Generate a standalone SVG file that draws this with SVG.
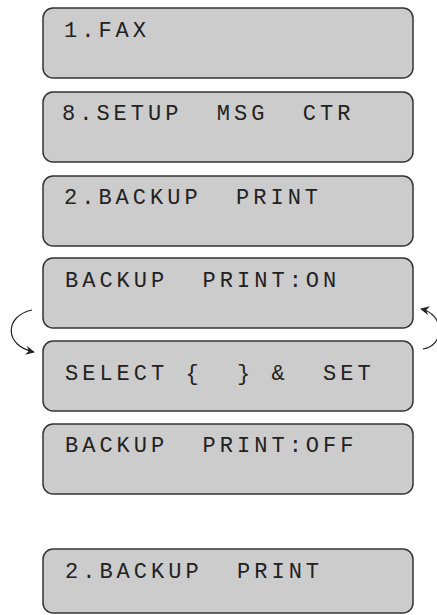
<svg xmlns="http://www.w3.org/2000/svg" width="437" height="615" viewBox="0 0 437 615">
<style>
.box{fill:#cccccc;stroke:#333333;stroke-width:1.5}
.t{font-family:"Liberation Mono","Courier New",monospace;font-size:22px;letter-spacing:4px;fill:#222222;white-space:pre}
.c{fill:none;stroke:#222222;stroke-width:1.2}
</style>
<defs>
<marker id="ah" viewBox="0 0 10 10" refX="9" refY="5" markerWidth="12" markerHeight="9" markerUnits="userSpaceOnUse" orient="auto">
<path d="M0,0 L10,5 L0,10 L3,5 z" fill="#222222"/>
</marker>
</defs>
<g id="n1"><rect class="box" x="43" y="8" width="370" height="70" rx="10"/><text class="t" x="64" y="37">1.FAX</text></g>
<g id="n2"><rect class="box" x="43" y="92" width="370" height="70" rx="10"/><text class="t" x="62" y="120">8.SETUP  MSG  CTR</text></g>
<g id="n3"><rect class="box" x="43" y="176" width="370" height="70" rx="10"/><text class="t" x="64" y="204">2.BACKUP  PRINT</text></g>
<g id="n4"><rect class="box" x="43" y="258" width="370" height="70" rx="10"/><text class="t" x="65" y="287">BACKUP  PRINT:ON</text></g>
<g id="n5"><rect class="box" x="43" y="341" width="370" height="70" rx="10"/><text class="t" x="65" y="380">SELECT {  } &amp;  SET</text></g>
<g id="n6"><rect class="box" x="43" y="424" width="370" height="70" rx="10"/><text class="t" x="65" y="452">BACKUP  PRINT:OFF</text></g>
<g id="n7"><rect class="box" x="43" y="549" width="370" height="64" rx="10"/><text class="t" x="65" y="578">2.BACKUP  PRINT</text></g>
<g id="connectors">
<path class="c" d="M32,310 C4,316 4,346 34,352" marker-end="url(#ah)"/>
<path class="c" d="M423,349 C445,346 445,314 421,309" marker-end="url(#ah)"/>
</g>
</svg>
